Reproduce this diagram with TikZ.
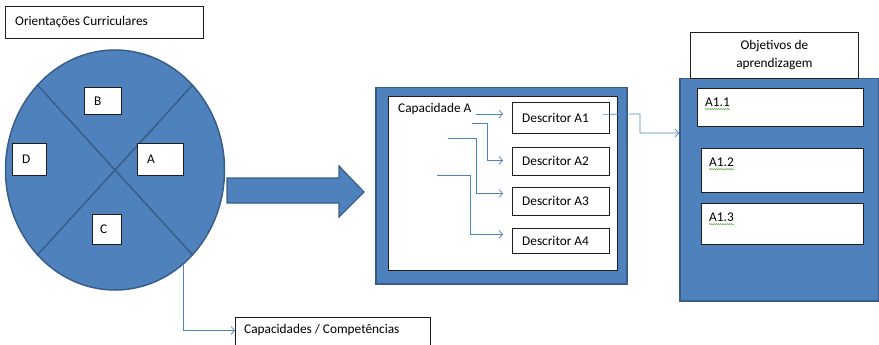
\documentclass[tikz,border=0pt]{standalone}
\usepackage{fontspec}
\setmainfont{Carlito}
\usetikzlibrary{shapes.geometric,arrows.meta,decorations.pathmorphing}

\definecolor{azulPainel}{RGB}{79,129,189}
\definecolor{azulBorda}{RGB}{56,93,138}
\definecolor{azulLinha}{RGB}{79,129,189}
\definecolor{verdeSublinhado}{RGB}{90,170,70}

\tikzset{
  caixa/.style 2 args={draw={rgb,255:red,30;green,30;blue,30}, line width=0.8pt, fill=white, anchor=north west, inner sep=0pt, minimum width=#1, minimum height=#2},
  rotulo/.style={anchor=west, inner sep=0pt, xshift=10pt},
  rotuloTopo/.style={anchor=north west, inner sep=0pt, xshift=8pt, yshift=-10pt},
  painel/.style 2 args={draw=azulBorda, fill=azulPainel, line width=1.5pt, anchor=north west, inner sep=0pt, minimum width=#1, minimum height=#2},
  ligacao/.style={draw=azulLinha, line width=0.7pt, -{Straight Barb[length=3.5pt,width=8pt]}},
  ondulado/.style={draw=verdeSublinhado, line width=0.5pt, decorate, decoration={snake, amplitude=0.6pt, segment length=2.2pt}},
}

\begin{document}
\begin{tikzpicture}[x=1pt,y=-1pt,font=\fontsize{13.3}{16}\selectfont]
\useasboundingbox (0,0) rectangle (879,345);

% Text Node
\node[caixa={198pt}{32pt}, label={[rotulo]west:Orientações Curriculares}] (orient) at (5,6) {};

%Shape: Ellipse
\node[ellipse, draw=azulBorda, fill=azulPainel, line width=1.5pt, minimum width=219pt, minimum height=240pt, inner sep=0pt] (roda) at (115,170) {};
%Straight Lines
\draw[azulBorda, line width=1.5pt] (roda.north west) -- (roda.south east);
\draw[azulBorda, line width=1.5pt] (roda.north east) -- (roda.south west);

% Text Node
\node[caixa={37pt}{27pt}, label={[rotulo]west:B}] (capB) at (84,87) {};
\node[caixa={34pt}{32pt}, label={[rotulo]west:D}] (capD) at (12,143) {};
\node[caixa={46pt}{32pt}, label={[rotulo]west:A}] (capAroda) at (137,143) {};
\node[caixa={29pt}{30pt}, label={[rotulo, xshift=-2pt]west:C}] (capC) at (92,214) {};

% Text Node
\node[caixa={195pt}{30pt}, label={[rotulo, xshift=-1pt, yshift=2pt]west:Capacidades / Competências}] (comp) at (235,317) {};
%Straight Lines
\draw[ligacao] (roda.-54) |- ([yshift=2pt]comp.west);

%Shape: Right Arrow
\draw[draw=azulBorda, fill=azulPainel, line width=1.2pt] (227,178) -- (339,178) -- (339,166) -- (364,192) -- (339,217) -- (339,203) -- (227,203) -- cycle;

%Shape: Rectangle
\node[painel={251pt}{196pt}] (quadro) at (375,87) {};
\node[caixa={229pt}{174pt}] (folha) at (388,96) {};

% Text Node
\node[anchor=west, inner sep=0pt] (capA) at (398,109) {Capacidade A};
\node[caixa={97pt}{31pt}, label={[rotulo]west:Descritor A1}] (d1) at (512,102) {};
\node[caixa={97pt}{28pt}, label={[rotulo]west:Descritor A2}] (d2) at (512,147) {};
\node[caixa={97pt}{28pt}, label={[rotulo]west:Descritor A3}] (d3) at (512,187) {};
\node[caixa={97pt}{25pt}, label={[rotulo]west:Descritor A4}] (d4) at (512,228) {};

\coordinate (s1) at (476,114);
\coordinate (s2) at (472,123);
\coordinate (s3) at (448,138);
\coordinate (s4) at (437,175);

%Straight Lines
\draw[ligacao, shorten >=9pt] (s1) -- (s1 -| d1.west);
\draw[ligacao, shorten >=9pt] (s2) -- ++(15,0) |- ([yshift=1pt]d2.west);
\draw[ligacao, shorten >=9pt] (s3) -- ++(28,0) |- ([yshift=8pt]d3.west);
\draw[ligacao, shorten >=9pt] (s4) -- ++(33,0) |- ([yshift=6.5pt]d4.west);

%Shape: Rectangle
\node[painel={199pt}{222pt}] (painel) at (679,78) {};
% Text Node
\node[caixa={168pt}{46pt}, align=center, font=\fontsize{13.3}{18}\selectfont] (objet) at (690,32) {Objetivos de\\aprendizagem};

\node[caixa={166pt}{38pt}, label={[rotuloTopo, name=t11]north west:A1.1}] (o1) at (697,88) {};
\node[caixa={162pt}{44pt}, label={[rotuloTopo, name=t12]north west:A1.2}] (o2) at (701,148) {};
\node[caixa={162pt}{41pt}, label={[rotuloTopo, name=t13]north west:A1.3}] (o3) at (701,203) {};
\draw[ondulado] ([yshift=-2pt]t11.south west) -- ([yshift=-2pt]t11.south east);
\draw[ondulado] ([yshift=-2pt]t12.south west) -- ([yshift=-2pt]t12.south east);
\draw[ondulado] ([yshift=-2pt]t13.south west) -- ([yshift=-2pt]t13.south east);

%Straight Lines
\draw[ligacao] ([xshift=-7pt, yshift=3.5pt]d1.east) -- (640,114) |- (painel.west |- 0,133);

\end{tikzpicture}
\end{document}
